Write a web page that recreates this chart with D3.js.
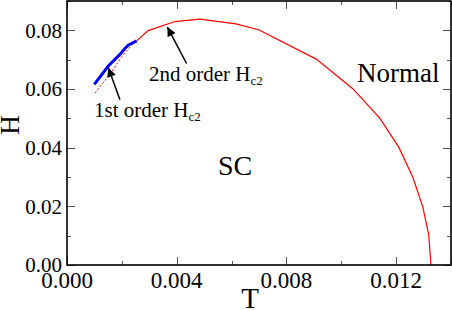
<!DOCTYPE html>
<html><head><meta charset="utf-8">
<script src="https://cdn.jsdelivr.net/npm/d3@7"></script>
<style>body{margin:0;background:#fff}svg{display:block}</style>
</head><body>
<script>
// Second-order Hc2 (red solid)
const redT = [0.00254,0.00296,0.00394,0.00485,0.00616,0.00701,0.00910,0.01042,0.01141,0.01210,0.01260,0.01297,0.01319,0.01327];
const redH = [0.0764,0.0799,0.0830,0.0838,0.0822,0.0801,0.0701,0.0601,0.0500,0.0401,0.0301,0.0199,0.0102,0.0];
// First-order Hc2 (blue thick)
const blueT = [0.000995,0.00154,0.00193,0.00212,0.00224,0.00254];
const blueH = [0.0616,0.0682,0.0718,0.0739,0.0750,0.0764];
// Extension of second-order line (red dotted)
const dotT = [0.00102,0.00163,0.00199,0.00236,0.00254];
const dotH = [0.0586,0.0659,0.0710,0.0750,0.0764];
const xTicks = [0.000,0.004,0.008,0.012];
const xMinor = [0.002,0.006,0.010,0.014];
const yTicks = [0.00,0.02,0.04,0.06,0.08];
const yMinor = [0.01,0.03,0.05,0.07,0.09];

const FONT = "'Liberation Serif', 'Times New Roman', Times, 'DejaVu Serif', serif";
const W=452,H=310;
const x=d3.scaleLinear().domain([0,0.014]).range([67,451]);
const y=d3.scaleLinear().domain([0,0.09]).range([265,1]);
const svg=d3.select("body").append("svg").attr("width",W).attr("height",H)
  .attr("font-family",FONT).style("font-family",FONT);

const defs=svg.append("defs");
defs.append("marker").attr("id","ah").attr("viewBox","0 0 10 10").attr("refX",10).attr("refY",5)
 .attr("markerWidth",10).attr("markerHeight",9).attr("markerUnits","userSpaceOnUse").attr("orient","auto")
 .append("path").attr("d","M0,0L10,5L0,10Z").attr("fill","#000");

// ticks (inward, all four sides)
const tg=svg.append("g").attr("stroke","#555").attr("stroke-width",1);
function vt(vals,len){vals.forEach(v=>{const px=Math.round(x(v))+0.5;
  tg.append("line").attr("x1",px).attr("x2",px).attr("y1",265).attr("y2",265-len);
  tg.append("line").attr("x1",px).attr("x2",px).attr("y1",1).attr("y2",1+len);});}
function ht(vals,len){vals.forEach(v=>{const py=Math.round(y(v))+0.5;
  tg.append("line").attr("y1",py).attr("y2",py).attr("x1",67).attr("x2",67+len);
  tg.append("line").attr("y1",py).attr("y2",py).attr("x1",451).attr("x2",451-len);});}
vt(xTicks,8);vt(xMinor,4);ht(yTicks,8);ht(yMinor,4);

// tick labels
svg.append("g").selectAll("text").data(xTicks).join("text")
 .attr("x",d=>x(d)).attr("y",288).attr("text-anchor","middle").attr("font-size",23)
 .style("font-family",FONT).text(d=>d3.format(".3f")(d));
svg.append("g").selectAll("text").data(yTicks).join("text")
 .attr("x",62).attr("y",d=>y(d)).attr("dy","0.35em").attr("text-anchor","end").attr("font-size",21)
 .style("font-family",FONT).text(d=>d3.format(".2f")(d));

// axis titles
svg.append("text").attr("x",250).attr("y",308).attr("text-anchor","middle").attr("font-size",29).style("font-family",FONT).text("T");
svg.append("text").attr("transform","translate(19,125) rotate(-90)").attr("text-anchor","middle").attr("font-size",27).style("font-family",FONT).text("H");

// lines
const line=(T,Hv)=>d3.line()(T.map((t,i)=>[x(t),y(Hv[i])]));
svg.append("path").attr("d",line(dotT,dotH)).attr("fill","none").attr("stroke","#ff0000").attr("stroke-width",1).attr("stroke-dasharray","2,2");
svg.append("path").attr("d",line(redT,redH)).attr("fill","none").attr("stroke","#ff0000").attr("stroke-width",1.2);
svg.append("path").attr("d",line(blueT,blueH)).attr("fill","none").attr("stroke","#0000ff").attr("stroke-width",3).attr("stroke-linejoin","round");

// arrows
const arrows=[{t0:0.00193,h0:0.0563,t1:0.00151,h1:0.0672},{t0:0.00436,h0:0.0687,t1:0.00366,h1:0.0811}];
svg.append("g").selectAll("line").data(arrows).join("line")
 .attr("x1",d=>x(d.t0)).attr("y1",d=>y(d.h0)).attr("x2",d=>x(d.t1)).attr("y2",d=>y(d.h1))
 .attr("stroke","#000").attr("stroke-width",1.5).attr("marker-end","url(#ah)");

// annotations
function hc2(px,py,label){const t=svg.append("text").attr("x",px).attr("y",py).attr("font-size",21).style("font-family",FONT);
 t.append("tspan").text(label+" H");
 t.append("tspan").attr("font-size",13).attr("dy",4).text("c2");}
hc2(149,80.5,"2nd order");
hc2(94,116.5,"1st order");
svg.append("text").attr("x",357).attr("y",82).attr("font-size",27).style("font-family",FONT).text("Normal");
svg.append("text").attr("x",218).attr("y",175).attr("font-size",28).style("font-family",FONT).text("SC");

// frame
svg.append("rect").attr("x",67).attr("y",1).attr("width",384).attr("height",264).attr("fill","none").attr("stroke","#000").attr("stroke-width",1.6);
</script>
</body></html>
